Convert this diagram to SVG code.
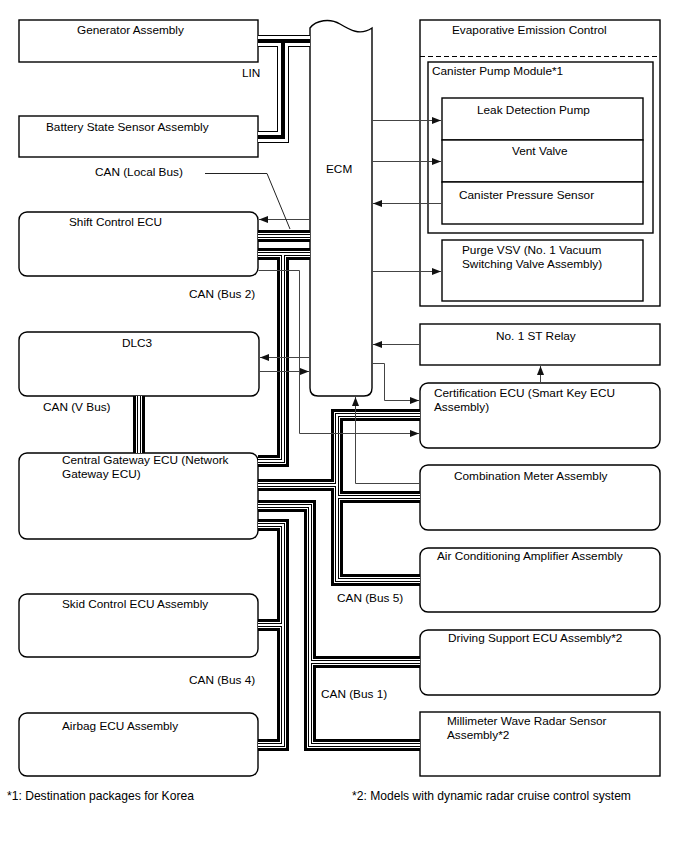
<svg xmlns="http://www.w3.org/2000/svg" width="688" height="852" viewBox="0 0 688 852">
<defs>
<marker id="ah" markerWidth="9" markerHeight="7" refX="9" refY="3.5" orient="auto" markerUnits="userSpaceOnUse"><path d="M0,0 L9,3.5 L0,7 Z" fill="#111"/></marker>
<path id="canbus" d="M258,236 H310 M258,254 H310 M283,254 V461 H258 M139,396 V453 M258,485 H337 V415 H420 M337,485 V580 H420 M337,497 H420 M258,525 H283 V745 H258 M283,625 H258 M258,506 H310 V745 H420 M310,662 H420"/>
<path id="linbus" d="M258,41 H310 M283,41 V137 H258"/>
<style>
text{font-family:"Liberation Sans",Arial,sans-serif;font-size:11.8px;fill:#000}
.fn{font-size:12.1px}
.bx{fill:#fff;stroke:#000;stroke-width:1.4}
.c1{fill:none;stroke:#000;stroke-width:12}
.c2{fill:none;stroke:#fff;stroke-width:6}
.c3{fill:none;stroke:#000;stroke-width:4}
.c4{fill:none;stroke:#fff;stroke-width:2}
.l1{fill:none;stroke:#000;stroke-width:12}
.l2{fill:none;stroke:#fff;stroke-width:10}
.l3{fill:none;stroke:#000;stroke-width:4}
.ar{fill:none;stroke:#444;stroke-width:1;marker-end:url(#ah)}
.ln{fill:none;stroke:#222;stroke-width:1}
.dash{fill:none;stroke:#000;stroke-width:1;stroke-dasharray:5,3}
</style>
</defs>
<rect width="688" height="852" fill="#fff"/>
<g id="generator"><rect class="bx" x="19" y="20" width="239" height="42"/><text x="77" y="34">Generator Assembly</text></g>
<g id="battery"><rect class="bx" x="19" y="116" width="239" height="41"/><text x="46" y="130.5">Battery State Sensor Assembly</text></g>
<g id="ecm"><path class="bx" d="M310,28 C316,20 330,18 340,24 C350,30 360,36 372,28 V388 Q372,396 364,396 H318 Q310,396 310,388 Z"/><text x="326" y="172.5">ECM</text></g>
<g id="shift"><rect class="bx" x="19" y="212" width="239" height="64" rx="8"/><text x="69" y="225.5">Shift Control ECU</text></g>
<g id="dlc3"><rect class="bx" x="19" y="332" width="240" height="64" rx="8"/><text x="122" y="347">DLC3</text></g>
<g id="gateway"><rect class="bx" x="19" y="453" width="239" height="86" rx="8"/><text x="62" y="463.5">Central Gateway ECU (Network</text><text x="62" y="478">Gateway ECU)</text></g>
<g id="skid"><rect class="bx" x="19" y="594" width="239" height="63" rx="8"/><text x="62" y="607.5">Skid Control ECU Assembly</text></g>
<g id="airbag"><rect class="bx" x="19" y="713" width="239" height="63" rx="8"/><text x="62" y="729.5">Airbag ECU Assembly</text></g>
<g id="evap"><rect class="bx" x="420" y="20" width="240" height="286"/><text x="452" y="33.5">Evaporative Emission Control</text><path class="dash" d="M420,56.5 H660"/></g>
<g id="canister"><rect class="bx" x="428" y="62" width="225" height="171"/><text x="432" y="75">Canister Pump Module*1</text></g>
<g id="leak"><rect class="bx" x="442" y="98" width="201" height="42"/><text x="477" y="113.5">Leak Detection Pump</text></g>
<g id="vent"><rect class="bx" x="442" y="140" width="201" height="42"/><text x="512" y="154.5">Vent Valve</text></g>
<g id="cps"><rect class="bx" x="442" y="182" width="201" height="42"/><text x="459" y="198.5">Canister Pressure Sensor</text></g>
<g id="purge"><rect class="bx" x="442" y="240" width="201" height="61"/><text x="462" y="253.5">Purge VSV (No. 1 Vacuum</text><text x="462" y="267.5">Switching Valve Assembly)</text></g>
<g id="strelay"><rect class="bx" x="420" y="324" width="240" height="41"/><text x="496" y="339.5">No. 1 ST Relay</text></g>
<g id="cert"><rect class="bx" x="420" y="383" width="240" height="65" rx="8"/><text x="434" y="396.5">Certification ECU (Smart Key ECU</text><text x="434" y="410.5">Assembly)</text></g>
<g id="combmeter"><rect class="bx" x="420" y="465" width="240" height="65" rx="8"/><text x="454" y="480">Combination Meter Assembly</text></g>
<g id="aircon"><rect class="bx" x="420" y="548" width="240" height="64" rx="8"/><text x="437" y="560">Air Conditioning Amplifier Assembly</text></g>
<g id="drivesupport"><rect class="bx" x="420" y="630" width="240" height="65" rx="8"/><text x="448" y="641.5">Driving Support ECU Assembly*2</text></g>
<g id="mmwave"><rect class="bx" x="420" y="712" width="240" height="64"/><text x="447" y="724.5">Millimeter Wave Radar Sensor</text><text x="447" y="738.5">Assembly*2</text></g>
<g id="connectors">
<use href="#linbus" class="l1"/><use href="#linbus" class="l2"/><use href="#linbus" class="l3"/>
<use href="#canbus" class="c1"/><use href="#canbus" class="c2"/><use href="#canbus" class="c3"/><use href="#canbus" class="c4"/>
<path class="ar" d="M309.5,219.5 H259"/>
<path class="ar" d="M372.5,120.5 H441"/>
<path class="ar" d="M372.5,161.5 H441"/>
<path class="ar" d="M441.5,203.5 H373"/>
<path class="ar" d="M372.5,271.5 H441"/>
<path class="ar" d="M309.5,357.5 H260"/>
<path class="ar" d="M259.5,371.5 H309"/>
<path class="ar" d="M419.5,344.5 H373"/>
<path class="ar" d="M372.5,363.5 H384.5 V400.5 H419"/>
<path class="ar" d="M540.5,383 V366"/>
<path class="ar" d="M258.5,270.5 H299.5 V433.5 H419"/>
<path class="ar" d="M419.5,483.5 H355.5 V397"/>
<path class="ln" d="M205,173.5 H267 L290,229"/>
</g>
<g id="labels">
<text x="242" y="77">LIN</text>
<text x="95" y="176">CAN (Local Bus)</text>
<text x="189" y="298">CAN (Bus 2)</text>
<text x="43" y="411">CAN (V Bus)</text>
<text x="337" y="602">CAN (Bus 5)</text>
<text x="189" y="684">CAN (Bus 4)</text>
<text x="321" y="698">CAN (Bus 1)</text>
<text class="fn" x="7" y="800">*1: Destination packages for Korea</text>
<text class="fn" x="352" y="800">*2: Models with dynamic radar cruise control system</text>
</g>
</svg>
